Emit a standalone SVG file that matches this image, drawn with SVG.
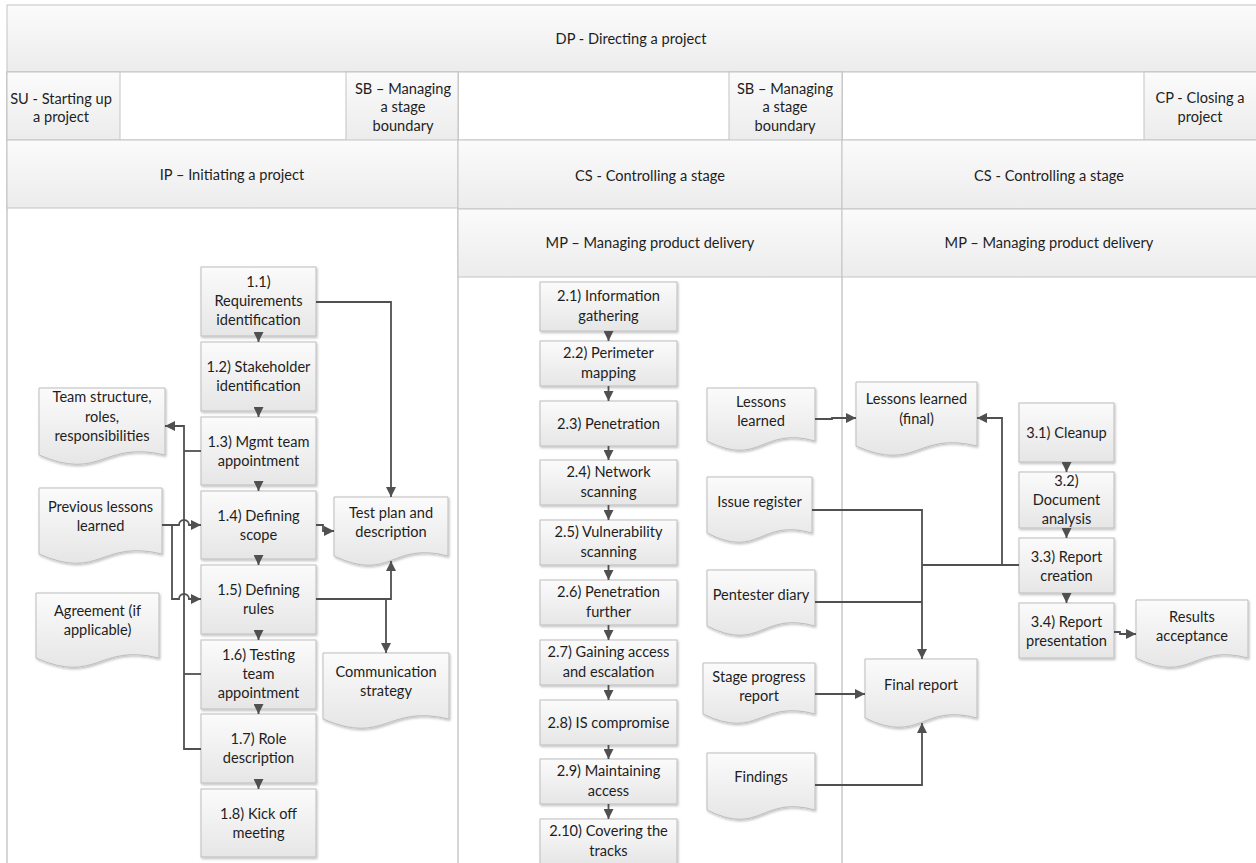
<svg xmlns="http://www.w3.org/2000/svg" width="1256" height="863" viewBox="0 0 1256 863">
<style>
.hdr{fill:url(#gh);stroke:#c4c4c4;stroke-width:1}
.box{fill:url(#gb);stroke:#bdbdbd;stroke-width:1;filter:url(#sh)}
.doc{fill:url(#gb);stroke:#bdbdbd;stroke-width:1;filter:url(#sh)}
.wh{fill:#ffffff;stroke:#c4c4c4;stroke-width:1}
.ln{stroke:#c8c8c8;stroke-width:1.5;fill:none}
text{font-family:Lato,"Liberation Sans",sans-serif;font-size:14.6px;fill:#1e1e1e;text-anchor:middle}
.c{fill:none;stroke:#505050;stroke-width:1.8}
.ca{fill:none;stroke:#505050;stroke-width:1.8;marker-end:url(#ar)}
</style>
<defs>
<linearGradient id="gh" x1="0" y1="0" x2="0" y2="1"><stop offset="0" stop-color="#fbfbfb"/><stop offset="1" stop-color="#ececec"/></linearGradient>
<linearGradient id="gb" x1="0" y1="0" x2="0" y2="1"><stop offset="0" stop-color="#fbfbfb"/><stop offset="1" stop-color="#e6e6e6"/></linearGradient>
<filter id="sh" x="-10%" y="-10%" width="130%" height="130%"><feDropShadow dx="1" dy="1.5" stdDeviation="1" flood-color="#000" flood-opacity="0.25"/></filter>
<marker id="ar" markerWidth="10" markerHeight="10" refX="10" refY="5" orient="auto" markerUnits="userSpaceOnUse"><path d="M0,0 L10,5 L0,10 Z" fill="#505050"/></marker>
</defs>
<rect width="1256" height="863" fill="#ffffff"/>

<g id="frame">
<rect class="hdr" x="7" y="5" width="1252" height="67"/>
<rect class="wh" x="7" y="72" width="451" height="68"/>
<rect class="wh" x="458" y="72" width="384" height="68"/>
<rect class="wh" x="842" y="72" width="417" height="68"/>
<line class="ln" x1="7" y1="72" x2="7" y2="863"/>
<line class="ln" x1="458" y1="72" x2="458" y2="863"/>
<line class="ln" x1="842" y1="72" x2="842" y2="863"/>
</g>

<g id="dp"><text x="631" y="44">DP - Directing a project</text></g>
<g id="su"><rect class="hdr" x="7" y="72" width="113" height="68"/><text x="61" y="104">SU - Starting up</text><text x="61" y="122">a project</text></g>
<g id="sb1"><rect class="hdr" x="346" y="72" width="112" height="69"/><text x="403" y="94">SB – Managing</text><text x="403" y="112">a stage</text><text x="403" y="131">boundary</text></g>
<g id="sb2"><rect class="hdr" x="729" y="72" width="113" height="69"/><text x="785" y="94">SB – Managing</text><text x="785" y="112">a stage</text><text x="785" y="131">boundary</text></g>
<g id="cp"><rect class="hdr" x="1144" y="72" width="115" height="68"/><text x="1200" y="103">CP - Closing a</text><text x="1200" y="122">project</text></g>
<g id="ip"><rect class="hdr" x="7" y="140" width="451" height="68"/><text x="232" y="180">IP – Initiating a project</text></g>
<g id="cs1"><rect class="hdr" x="458" y="140" width="384" height="69"/><text x="650" y="181">CS - Controlling a stage</text></g>
<g id="cs2"><rect class="hdr" x="842" y="140" width="417" height="69"/><text x="1049" y="181">CS - Controlling a stage</text></g>
<g id="mp1"><rect class="hdr" x="458" y="209" width="384" height="68"/><text x="650" y="248">MP – Managing product delivery</text></g>
<g id="mp2"><rect class="hdr" x="842" y="209" width="417" height="68"/><text x="1049" y="248">MP – Managing product delivery</text></g>

<g id="n1_1"><rect class="box" x="201" y="267" width="115" height="69"/><text x="258.5" y="287">1.1)</text><text x="258.5" y="306">Requirements</text><text x="258.5" y="325">identification</text></g>
<g id="n1_2"><rect class="box" x="201" y="342" width="115" height="69"/><text x="258.5" y="372">1.2) Stakeholder</text><text x="258.5" y="391">identification</text></g>
<g id="n1_3"><rect class="box" x="201" y="417" width="115" height="68"/><text x="258.5" y="446.5">1.3) Mgmt team</text><text x="258.5" y="465.5">appointment</text></g>
<g id="n1_4"><rect class="box" x="201" y="491" width="115" height="68"/><text x="258.5" y="520.5">1.4) Defining</text><text x="258.5" y="539.5">scope</text></g>
<g id="n1_5"><rect class="box" x="201" y="565" width="115" height="69"/><text x="258.5" y="595">1.5) Defining</text><text x="258.5" y="614">rules</text></g>
<g id="n1_6"><rect class="box" x="201" y="640" width="115" height="69"/><text x="258.5" y="660">1.6) Testing</text><text x="258.5" y="679">team</text><text x="258.5" y="698">appointment</text></g>
<g id="n1_7"><rect class="box" x="201" y="714" width="115" height="69"/><text x="258.5" y="744">1.7) Role</text><text x="258.5" y="763">description</text></g>
<g id="n1_8"><rect class="box" x="201" y="789" width="115" height="68"/><text x="258.5" y="818.5">1.8) Kick off</text><text x="258.5" y="837.5">meeting</text></g>

<g id="d_team"><path class="doc" d="M39 388 H165 V455 C102 440 102 482 39 455 Z"/><text x="102" y="402">Team structure,</text><text x="102" y="421.5">roles,</text><text x="102" y="441">responsibilities</text></g>
<g id="d_prev"><path class="doc" d="M39 488 H162 V554 C100.5 539 100.5 581 39 554 Z"/><text x="100.5" y="512">Previous lessons</text><text x="100.5" y="531">learned</text></g>
<g id="d_agree"><path class="doc" d="M36 593 H159 V658 C97.5 643 97.5 685 36 658 Z"/><text x="97.5" y="616">Agreement (if</text><text x="97.5" y="635">applicable)</text></g>
<g id="d_test"><path class="doc" d="M334 497 H448 V556 C391 541 391 583 334 556 Z"/><text x="391" y="518">Test plan and</text><text x="391" y="537">description</text></g>
<g id="d_comm"><path class="doc" d="M323 653 H449 V719 C386 704 386 746 323 719 Z"/><text x="386" y="677">Communication</text><text x="386" y="696">strategy</text></g>

<g id="n2_1"><rect class="box" x="540" y="282" width="137" height="49"/><text x="608.5" y="301">2.1) Information</text><text x="608.5" y="320.5">gathering</text></g>
<g id="n2_2"><rect class="box" x="540" y="341" width="137" height="45"/><text x="608.5" y="358">2.2) Perimeter</text><text x="608.5" y="377.5">mapping</text></g>
<g id="n2_3"><rect class="box" x="540" y="401" width="137" height="45"/><text x="608.5" y="428.5">2.3) Penetration</text></g>
<g id="n2_4"><rect class="box" x="540" y="460" width="137" height="45"/><text x="608.5" y="477">2.4) Network</text><text x="608.5" y="496.5">scanning</text></g>
<g id="n2_5"><rect class="box" x="540" y="520" width="137" height="45"/><text x="608.5" y="537">2.5) Vulnerability</text><text x="608.5" y="556.5">scanning</text></g>
<g id="n2_6"><rect class="box" x="540" y="580" width="137" height="45"/><text x="608.5" y="597">2.6) Penetration</text><text x="608.5" y="616.5">further</text></g>
<g id="n2_7"><rect class="box" x="540" y="640" width="137" height="45"/><text x="608.5" y="657">2.7) Gaining access</text><text x="608.5" y="676.5">and escalation</text></g>
<g id="n2_8"><rect class="box" x="540" y="700" width="137" height="45"/><text x="608.5" y="727.5">2.8) IS compromise</text></g>
<g id="n2_9"><rect class="box" x="540" y="759" width="137" height="45"/><text x="608.5" y="776">2.9) Maintaining</text><text x="608.5" y="795.5">access</text></g>
<g id="n2_10"><rect class="box" x="540" y="819" width="137" height="45"/><text x="608.5" y="836">2.10) Covering the</text><text x="608.5" y="855.5">tracks</text></g>

<g id="d_ll"><path class="doc" d="M707 388 H815 V441 C761 426 761 468 707 441 Z"/><text x="761" y="407">Lessons</text><text x="761" y="426">learned</text></g>
<g id="d_issue"><path class="doc" d="M707 477 H812 V533 C759.5 518 759.5 560 707 533 Z"/><text x="759.5" y="507">Issue register</text></g>
<g id="d_diary"><path class="doc" d="M707 570 H815 V626 C761 611 761 653 707 626 Z"/><text x="761" y="600">Pentester diary</text></g>
<g id="d_stage"><path class="doc" d="M703 663 H815 V714 C759 699 759 741 703 714 Z"/><text x="759" y="682">Stage progress</text><text x="759" y="701">report</text></g>
<g id="d_find"><path class="doc" d="M707 753 H815 V810 C761 795 761 837 707 810 Z"/><text x="761" y="782">Findings</text></g>
<g id="d_llf"><path class="doc" d="M856 382 H977 V446 C916.5 431 916.5 473 856 446 Z"/><text x="916.5" y="404">Lessons learned</text><text x="916.5" y="424">(final)</text></g>
<g id="d_final"><path class="doc" d="M865 659 H977 V718 C921 703 921 745 865 718 Z"/><text x="921" y="690">Final report</text></g>

<g id="n3_1"><rect class="box" x="1019" y="403" width="95" height="59"/><text x="1066.5" y="437.5">3.1) Cleanup</text></g>
<g id="n3_2"><rect class="box" x="1019" y="472" width="95" height="56"/><text x="1066.5" y="486">3.2)</text><text x="1066.5" y="505">Document</text><text x="1066.5" y="524">analysis</text></g>
<g id="n3_3"><rect class="box" x="1019" y="538" width="95" height="55"/><text x="1066.5" y="561.5">3.3) Report</text><text x="1066.5" y="580.5">creation</text></g>
<g id="n3_4"><rect class="box" x="1019" y="603" width="95" height="55"/><text x="1066.5" y="626.5">3.4) Report</text><text x="1066.5" y="645.5">presentation</text></g>
<g id="d_res"><path class="doc" d="M1136 600 H1248 V658 C1192 643 1192 685 1136 658 Z"/><text x="1192" y="622">Results</text><text x="1192" y="641">acceptance</text></g>

<g id="connectors">
<path class="ca" d="M258.5 336 V342"/>
<path class="ca" d="M258.5 411 V417"/>
<path class="ca" d="M258.5 485 V491"/>
<path class="ca" d="M258.5 559 V565"/>
<path class="ca" d="M258.5 634 V640"/>
<path class="ca" d="M258.5 709 V714"/>
<path class="ca" d="M258.5 783 V789"/>
<path class="ca" d="M316 302 H391 V497"/>
<path class="ca" d="M316 525 H323 V531 H334"/>
<path class="ca" d="M316 599 H391 V561"/>
<path class="ca" d="M386 599 V653"/>
<path class="c" d="M201 451 H184"/>
<path class="c" d="M201 674 H184"/>
<path class="ca" d="M201 749 H184 V426 H165"/>
<path class="ca" d="M162 525 H179 A5 5 0 0 1 189 525 H201"/>
<path class="ca" d="M172 525 V599 H179 A5 5 0 0 1 189 599 H201"/>

<path class="ca" d="M608.5 331 V341"/>
<path class="ca" d="M608.5 386 V401"/>
<path class="ca" d="M608.5 446 V460"/>
<path class="ca" d="M608.5 505 V520"/>
<path class="ca" d="M608.5 565 V580"/>
<path class="ca" d="M608.5 625 V640"/>
<path class="ca" d="M608.5 685 V700"/>
<path class="ca" d="M608.5 745 V759"/>
<path class="ca" d="M608.5 804 V819"/>

<path class="ca" d="M815 419 H832 V418 H856"/>
<path class="ca" d="M1019 565 H1002 V418 H977"/>
<path class="c" d="M922 565 H1002"/>
<path class="ca" d="M812 510 H922 V659"/>
<path class="c" d="M815 602 H922"/>
<path class="ca" d="M815 694 H865"/>
<path class="ca" d="M815 785 H922 V723"/>

<path class="ca" d="M1066.5 462 V472"/>
<path class="ca" d="M1066.5 528 V538"/>
<path class="ca" d="M1066.5 593 V603"/>
<path class="ca" d="M1114 632 H1120 V634 H1136"/>
</g>
</svg>
